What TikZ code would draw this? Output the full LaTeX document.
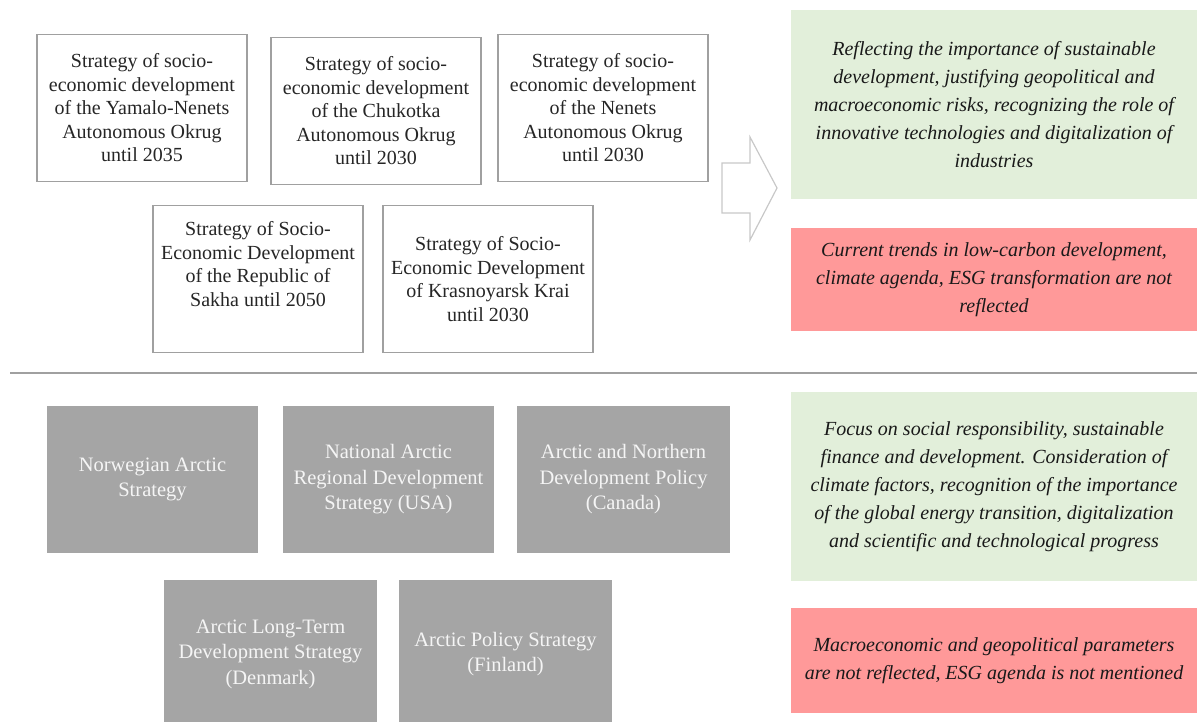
\documentclass[tikz,border=0pt]{standalone}
\usepackage{fontspec}
\setmainfont{Liberation Serif}
\definecolor{boxline}{HTML}{A0A0A0}
\definecolor{greyfill}{HTML}{A5A5A5}
\definecolor{greenfill}{HTML}{E2EFDA}
\definecolor{redfill}{HTML}{FF9999}
\definecolor{txt}{HTML}{262626}
\definecolor{arrowline}{HTML}{C8C8C8}
\begin{document}
\begin{tikzpicture}[x=1pt,y=-1pt,
  regbox/.style={draw=boxline,line width=1.6pt,fill=white,text=txt,align=center,
    minimum width=210pt,minimum height=147pt,inner sep=0pt,
    font=\fontsize{20}{23.5}\selectfont},
  greybox/.style={fill=greyfill,text=white!96!black,align=center,
    minimum width=211pt,minimum height=147pt,inner sep=0pt,
    font=\fontsize{20.5}{25.5}\selectfont},
  notebox/.style={align=center,minimum width=406pt,inner sep=0pt,text=black!90,
    font=\fontsize{20}{28}\selectfont\itshape},
  goodbox/.style={notebox,fill=greenfill,minimum height=189pt},
  badbox/.style={notebox,fill=redfill}]
\useasboundingbox (0,0) rectangle (1197,722);
\clip (0,0) rectangle (1197,722);
% top: regional strategies
\node[regbox] (yamal) at (142,108) {Strategy of socio-\\economic development\\of the Yamalo-Nenets\\Autonomous Okrug\\until 2035};
\node[regbox] (chuk) at (376,111) {Strategy of socio-\\economic development\\of the Chukotka\\Autonomous Okrug\\until 2030};
\node[regbox] (nenets) at (603,108) {Strategy of socio-\\economic development\\of the Nenets\\Autonomous Okrug\\until 2030};
\node[regbox] (sakha) at (258,279) {Strategy of Socio-\\Economic Development\\of the Republic of\\Sakha until 2050\\\strut};
\node[regbox] (krasn) at (488,279) {Strategy of Socio-\\Economic Development\\of Krasnoyarsk Krai\\until 2030};
% block arrow
\draw[arrowline,line width=1.2pt,line join=miter]
  (722,163) -- (750,163) -- (750,137) -- (777,188) -- (750,240) -- (750,213) -- (722,213) -- cycle;
% top notes
\node[goodbox] (good1) at (994,104.5) {Reflecting the importance of sustainable\\development, justifying geopolitical and\\macroeconomic risks, recognizing the role of\\innovative technologies and digitalization of\\industries};
\node[badbox,minimum height=103pt] (bad1) at (994,279.5) {Current trends in low-carbon development,\\climate agenda, ESG transformation are not\\reflected};
% separator
\coordinate (sepL) at (10,373);
\coordinate (sepR) at (1197,373);
\draw[boxline,line width=2.2pt] (sepL) -- (sepR);
% bottom: foreign strategies
\node[greybox] (nor) at (152.5,479.5) {Norwegian Arctic\\Strategy};
\node[greybox] (usa) at (388.5,479.5) {National Arctic\\Regional Development\\Strategy (USA)};
\node[greybox,minimum width=213pt] (can) at (623.5,479.5) {Arctic and Northern\\Development Policy\\(Canada)};
\node[greybox,minimum width=213pt,minimum height=148pt] (den) at (270.5,654) {Arctic Long-Term\\Development Strategy\\(Denmark)};
\node[greybox,minimum width=213pt,minimum height=148pt] (fin) at (505.5,654) {Arctic Policy Strategy\\(Finland)};
% bottom notes
\node[goodbox] (good2) at (994,486.5) {Focus on social responsibility, sustainable\\finance and development. Consideration of\\climate factors, recognition of the importance\\of the global energy transition, digitalization\\and scientific and technological progress};
\node[badbox,minimum height=105pt] (bad2) at (994,660.5) {Macroeconomic and geopolitical parameters\\are not reflected, ESG agenda is not mentioned};
\end{tikzpicture}
\end{document}
